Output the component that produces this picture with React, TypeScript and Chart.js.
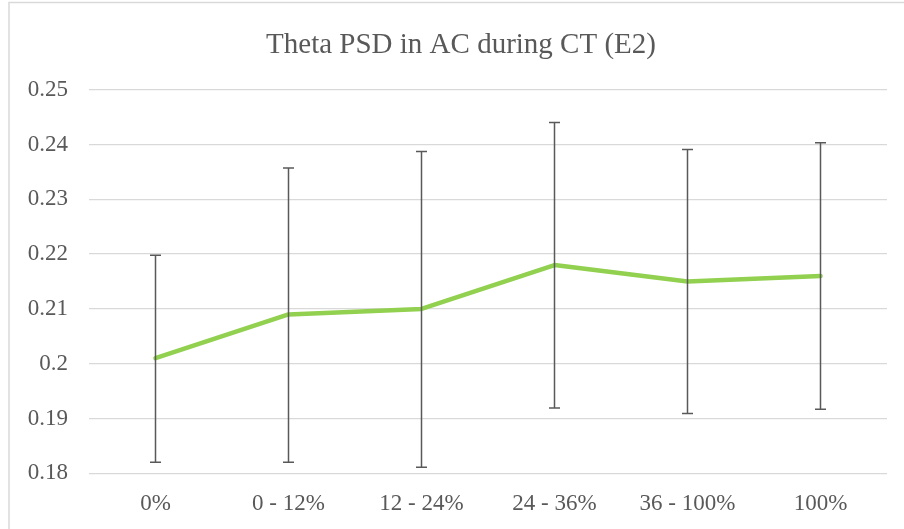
import React, { useEffect, useRef } from "react";
import { Chart, registerables } from "chart.js";

Chart.register(...registerables);

const categories = ["0%", "0 - 12%", "12 - 24%", "24 - 36%", "36 - 100%", "100%"];
const thetaPsd = [0.201, 0.209, 0.21, 0.218, 0.215, 0.216];
const errorHigh = [0.2198, 0.2357, 0.2387, 0.244, 0.2391, 0.2403];
const errorLow = [0.182, 0.182, 0.1811, 0.1919, 0.1909, 0.1917];
const titleText = "Theta PSD in AC during CT (E2)";

const FONT = "'Liberation Serif', 'Times New Roman', serif";
const TEXT_COLOR = "#595959";
const GRID_COLOR = "#d9d9d9";

const errorBarPlugin = {
  id: "errorBars",
  afterDatasetsDraw(chart: any) {
    const ctx = chart.ctx;
    const x = chart.scales.x;
    const y = chart.scales.y;
    ctx.save();
    ctx.strokeStyle = "#595959";
    ctx.lineWidth = 1.5;
    categories.forEach((_, i) => {
      const px = x.getPixelForValue(i);
      const top = y.getPixelForValue(errorHigh[i]);
      const bot = y.getPixelForValue(errorLow[i]);
      ctx.beginPath();
      ctx.moveTo(px, top);
      ctx.lineTo(px, bot);
      ctx.moveTo(px - 5.5, top);
      ctx.lineTo(px + 5.5, top);
      ctx.moveTo(px - 5.5, bot);
      ctx.lineTo(px + 5.5, bot);
      ctx.stroke();
    });
    ctx.restore();
  },
};

const framePlugin = {
  id: "frame",
  beforeDraw(chart: any) {
    const ctx = chart.ctx;
    ctx.save();
    ctx.fillStyle = "#ffffff";
    ctx.fillRect(0, 0, chart.width, chart.height);
    ctx.strokeStyle = GRID_COLOR;
    ctx.lineWidth = 1.5;
    ctx.beginPath();
    ctx.moveTo(9, chart.height);
    ctx.lineTo(9, 2.5);
    ctx.lineTo(chart.width, 2.5);
    ctx.stroke();
    // chart title (frame is wider than the visible canvas, so title sits right of canvas centre)
    ctx.fillStyle = TEXT_COLOR;
    ctx.font = `29px ${FONT}`;
    ctx.textAlign = "center";
    ctx.textBaseline = "alphabetic";
    ctx.fillText(titleText, 461, 53);
    ctx.restore();
  },
};

export default function App() {
  const ref = useRef<HTMLCanvasElement | null>(null);

  useEffect(() => {
    if (!ref.current) return;
    const chart = new Chart(ref.current, {
      type: "line",
      data: {
        labels: categories,
        datasets: [
          {
            data: thetaPsd,
            borderColor: "#92D050",
            backgroundColor: "#92D050",
            borderWidth: 4.5,
            pointRadius: 0,
            tension: 0,
            borderCapStyle: "round",
            borderJoinStyle: "round",
          },
        ],
      },
      options: {
        responsive: false,
        animation: false,
        layout: { padding: { left: 0, right: 17, top: 89.7, bottom: 0 } },
        plugins: {
          legend: { display: false },
          tooltip: { enabled: false },
          title: { display: false },
        },
        scales: {
          x: {
            offset: true,
            grid: { display: false, drawTicks: false },
            border: { display: false },
            ticks: {
              color: TEXT_COLOR,
              font: { family: FONT, size: 23 },
              padding: 17,
              maxRotation: 0,
            },
            afterFit: (scale: any) => {
              scale.height = 55.7;
            },
          },
          y: {
            min: 0.18,
            max: 0.25,
            grid: { color: GRID_COLOR, lineWidth: 1.3, drawTicks: false },
            border: { display: false },
            ticks: {
              stepSize: 0.01,
              color: TEXT_COLOR,
              font: { family: FONT, size: 23 },
              padding: 21,
              callback: (v: any) => String(Number(Number(v).toFixed(2))),
            },
            afterFit: (scale: any) => {
              scale.width = 89;
            },
          },
        },
      },
      plugins: [framePlugin, errorBarPlugin],
    });
    return () => chart.destroy();
  }, []);

  return (
    <div style={{ position: "absolute", left: 0, top: 0, width: 904, height: 529 }}>
      <canvas ref={ref} width={904} height={529} />
    </div>
  );
}
